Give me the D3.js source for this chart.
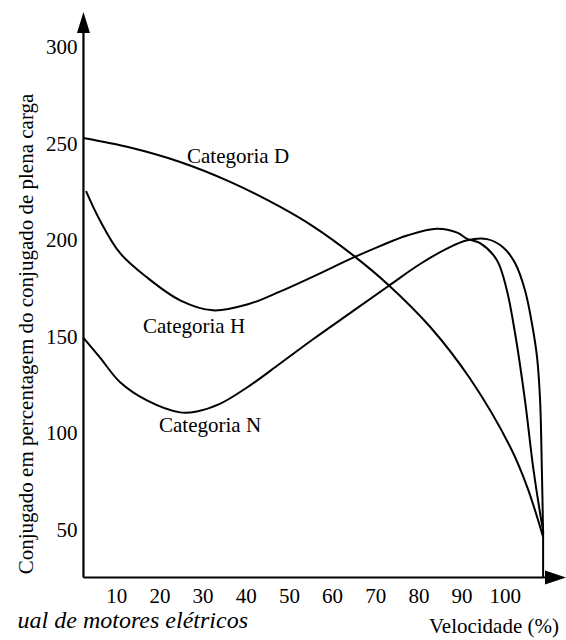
<!DOCTYPE html>
<html lang="pt">
<head>
    <meta charset="utf-8">
    <title>Conjugado x velocidade</title>
    <script src="https://cdn.jsdelivr.net/npm/d3@7"></script>
    <style>
        body { margin: 0; background: white; }
    </style>
</head>
<body>
<script>
    // dados: [velocidade %, conjugado %]
    var catD = [[2.3, 252.8], [13.2, 247.9], [24.8, 240.4], [36.4, 230.1], [47.9, 217.2],
        [55.6, 207], [64.9, 192], [73.0, 176.8], [82.7, 155], [92.0, 128],
        [101.2, 93], [105.2, 72], [108.9, 46]];
    var catH = [[3.0, 225.3], [6.2, 210.2], [10.9, 193.1], [17.1, 180.6], [24.8, 168.7],
        [32.4, 163.5], [40.3, 166.5], [47.9, 173.2], [55.6, 181], [64.9, 190.8],
        [71.1, 196.8], [77.4, 202.3], [84.3, 205.8], [89.0, 203.8], [91.3, 200.5],
        [94.3, 198.3], [98.2, 189.5], [100.5, 173.9], [102.4, 151.6], [104.7, 116.8],
        [106.6, 82], [108.6, 53], [108.9, 49.4]];
    var catN = [[2.3, 149.5], [6.2, 139.1], [10.9, 126.2], [17.1, 116.8], [24.8, 110.6],
        [28.7, 111.1], [34.0, 115], [40.3, 123.5], [47.9, 135.8], [55.6, 148.5],
        [64.9, 163.2], [73.0, 176], [80.4, 187.5], [86.6, 195.5], [91.3, 199.8],
        [95.9, 200.4], [99.6, 196.2], [102.4, 188], [104.7, 173.9], [106.3, 156.8],
        [107.5, 139.1], [108.2, 116.8], [108.6, 82], [108.9, 47.8]];
    var xTicks = [10, 20, 30, 40, 50, 60, 70, 80, 90, 100];
    var yTicks = [50, 100, 150, 200, 250, 300];
    var seriesLabels = ["Categoria D", "Categoria H", "Categoria N"];
    var endSpeed = 108.9;

    var width = 566, height = 640;
    var xMin = 2.4, xMax = 114.2, yMin = 25, yMax = 318.2;

    var x = d3.scaleLinear().domain([0, 100]).range([73.1, 504.7]);
    var y = d3.scaleLinear().domain([25, 300]).range([577.5, 47]);

    var svg = d3.select("body").append("svg")
        .attr("width", width)
        .attr("height", height)
        .attr("font-family", "Liberation Serif")
        .attr("font-size", 21);

    // eixos sem traços, só os números
    var gx = svg.append("g")
        .attr("transform", `translate(0,${y(yMin)})`)
        .call(d3.axisBottom(x).tickValues(xTicks).tickSize(0).tickPadding(11));
    var gy = svg.append("g")
        .attr("transform", `translate(${x(xMin)},0)`)
        .call(d3.axisLeft(y).tickValues(yTicks).tickSize(0).tickPadding(6));
    [gx, gy].forEach(g => {
        g.attr("font-family", "Liberation Serif").attr("font-size", 21);
        g.select(".domain").remove();
    });

    // linhas dos eixos com setas
    svg.append("line")
        .attr("x1", x(xMin)).attr("y1", y(yMin))
        .attr("x2", x(xMin)).attr("y2", y(yMax) + 18)
        .attr("stroke", "black").attr("stroke-width", 2.2);
    svg.append("line")
        .attr("x1", x(xMin)).attr("y1", y(yMin))
        .attr("x2", x(xMax) - 18).attr("y2", y(yMin))
        .attr("stroke", "black").attr("stroke-width", 2.2);
    svg.append("path")
        .attr("d", `M${x(xMin)},${y(yMax)}L${x(xMin) - 6.5},${y(yMax) + 21}L${x(xMin) + 6.5},${y(yMax) + 21}Z`)
        .attr("fill", "black");
    svg.append("path")
        .attr("d", `M${x(xMax)},${y(yMin)}L${x(xMax) - 21},${y(yMin) - 7}L${x(xMax) - 21},${y(yMin) + 7}Z`)
        .attr("fill", "black");

    // curvas
    var line = d3.line()
        .x(d => x(d[0]))
        .y(d => y(d[1]))
        .curve(d3.curveCatmullRom.alpha(0.5));

    svg.append("g")
        .attr("fill", "none")
        .attr("stroke", "black")
        .attr("stroke-width", 2)
        .selectAll("path")
        .data([catD, catH, catN])
        .join("path")
        .attr("d", line);

    svg.append("line")
        .attr("x1", x(endSpeed)).attr("y1", y(49.4))
        .attr("x2", x(endSpeed)).attr("y2", y(yMin))
        .attr("stroke", "black").attr("stroke-width", 2);

    // rótulos das curvas
    var labelPos = [[187, 163], [143, 333], [159, 432]];
    svg.append("g")
        .selectAll("text")
        .data(seriesLabels)
        .join("text")
        .attr("x", (d, i) => labelPos[i][0])
        .attr("y", (d, i) => labelPos[i][1])
        .text(d => d);

    // títulos
    svg.append("text")
        .attr("transform", "translate(33,334) rotate(-90)")
        .attr("text-anchor", "middle")
        .text("Conjugado em percentagem do conjugado de plena carga");

    svg.append("text")
        .attr("x", 559).attr("y", 633)
        .attr("text-anchor", "end")
        .text("Velocidade (%)");

    svg.append("text")
        .attr("x", 248).attr("y", 628)
        .attr("text-anchor", "end")
        .attr("font-size", 24)
        .attr("font-style", "italic")
        .text("ual de motores elétricos");
</script>
</body>
</html>
